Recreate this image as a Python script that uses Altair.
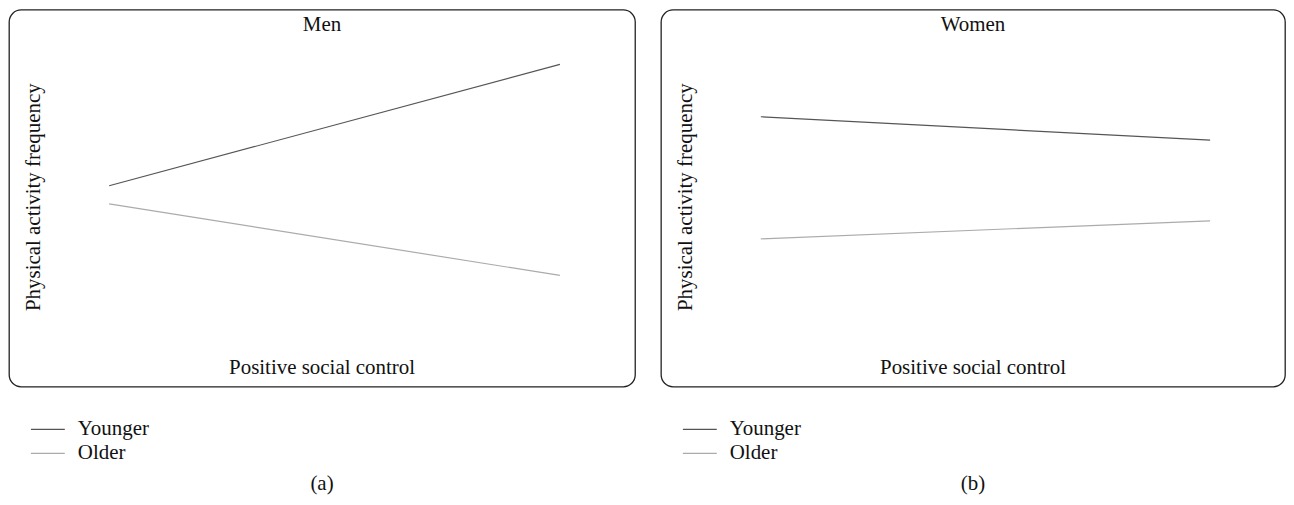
import altair as alt
import pandas as pd

# ---- data ----
groups = ["Younger", "Older"]
x_points = [16, 88]  # low / high positive social control (relative position)
men_younger = [53.3, 85.5]
men_older = [48.5, 29.5]
women_younger = [71.6, 65.4]
women_older = [39.2, 44.0]

panel_titles = ["Men", "Women"]
captions = ["(a)", "(b)"]
x_title = "Positive social control"
y_title = "Physical activity frequency"
line_colors = ["#555555", "#ababab"]

FONT = "Liberation Serif"
FS = 21


def make_df(younger, older):
    rows = []
    for g, vals in zip(groups, [younger, older]):
        for xv, yv in zip(x_points, vals):
            rows.append({"group": g, "x": xv, "y": yv})
    return pd.DataFrame(rows)


def text_layer(label, x, y, angle=0):
    return alt.Chart(pd.DataFrame({"t": [label]})).mark_text(
        font=FONT, fontSize=FS, color="#111111", angle=angle,
        align="center", baseline="middle"
    ).encode(text="t:N", x=alt.value(x), y=alt.value(y))


def panel(df, title, caption, w, h):
    cx = w / 2
    lines = alt.Chart(df).mark_line(strokeWidth=1.2).encode(
        x=alt.X("x:Q", scale=alt.Scale(domain=[0, 100]), axis=None),
        y=alt.Y("y:Q", scale=alt.Scale(domain=[0, 100]), axis=None),
        color=alt.Color(
            "group:N",
            scale=alt.Scale(domain=groups, range=line_colors),
            legend=alt.Legend(
                title=None, orient="none", legendX=21, legendY=409,
                symbolType="stroke", symbolSize=1156, symbolStrokeWidth=1.2,
                labelFont=FONT, labelFontSize=FS, labelColor="#111111",
                labelOffset=12, rowPadding=0, clipHeight=24, padding=0,
            ),
        ),
        detail="group:N",
    )
    return alt.layer(
        lines,
        text_layer(title, cx, 15),
        text_layer(x_title, cx, 359),
        text_layer(y_title, 25, 188, angle=270),
        text_layer(caption, cx, 476),
    ).properties(width=w, height=h)


left = panel(make_df(men_younger, men_older), panel_titles[0], captions[0], 628, 378)
right = panel(make_df(women_younger, women_older), panel_titles[1], captions[1], 626, 378)

chart = alt.hconcat(left, right, spacing=24).resolve_scale(
    color="independent"
).resolve_legend(color="independent").properties(
    padding=0, background="white"
).configure_view(
    stroke="#222222", strokeWidth=1.3, cornerRadius=12
)

chart.save("out.html", embed_options={"renderer": "svg", "actions": False})
